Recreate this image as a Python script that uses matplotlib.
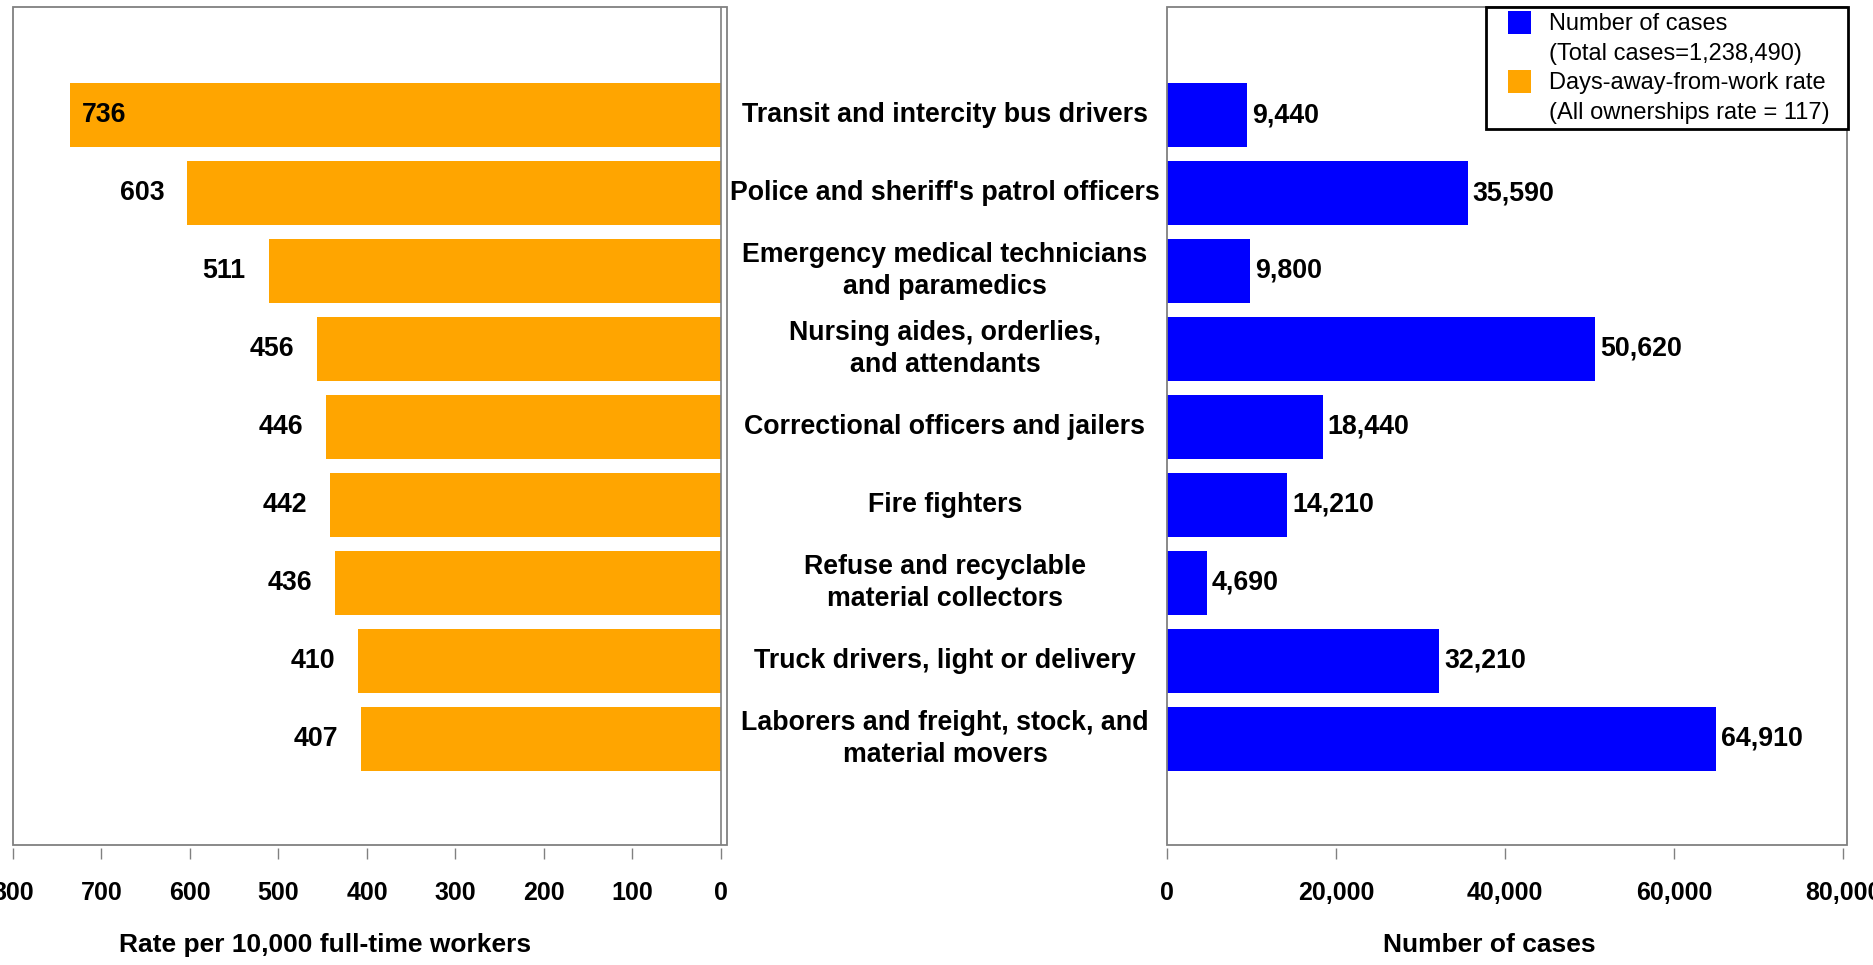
import matplotlib
matplotlib.use("Agg")
import matplotlib.pyplot as plt
from matplotlib.patches import Patch, Rectangle
from matplotlib.legend_handler import HandlerPatch
from matplotlib.transforms import blended_transform_factory

plt.rcParams['font.family'] = ['Liberation Sans', 'DejaVu Sans']

categories = [
    "Transit and intercity bus drivers",
    "Police and sheriff's patrol officers",
    "Emergency medical technicians\nand paramedics",
    "Nursing aides, orderlies,\nand attendants",
    "Correctional officers and jailers",
    "Fire fighters",
    "Refuse and recyclable\nmaterial collectors",
    "Truck drivers, light or delivery",
    "Laborers and freight, stock, and\nmaterial movers",
]
rates = [736, 603, 511, 456, 446, 442, 436, 410, 407]
cases = [9440, 35590, 9800, 50620, 18440, 14210, 4690, 32210, 64910]
rate_ticks = [800, 700, 600, 500, 400, 300, 200, 100, 0]
case_ticks = [0, 20000, 40000, 60000, 80000]
legend_labels = ["Number of cases", "(Total cases=1,238,490)",
                 "Days-away-from-work rate", "(All ownerships rate = 117)"]

ORANGE = "#FFA500"
BLUE = "#0000FF"
GRAY = "#808080"
FS = 19.25

W, H = 1874, 965
fig = plt.figure(figsize=(W / 100, H / 100), dpi=100)

def fr(x0, x1, ytop, ybot):
    return [x0 / W, 1 - ybot / H, (x1 - x0) / W, (ybot - ytop) / H]

axL = fig.add_axes(fr(13, 727, 7, 845))
axR = fig.add_axes(fr(1167, 1847, 7, 845))

y = list(range(len(categories)))
bar_h = 0.82

axL.barh(y, rates, height=bar_h, color=ORANGE)
axR.barh(y, cases, height=bar_h, color=BLUE)

for ax in (axL, axR):
    ax.set_ylim(9.36, -1.385)
    ax.set_yticks([])
    for s in ax.spines.values():
        s.set_visible(False)
    ax.add_patch(Rectangle((0, 0), 1, 1, transform=ax.transAxes, fill=False,
                           edgecolor=GRAY, lw=1.3, clip_on=False, zorder=5))
    ax.spines['bottom'].set_position(('outward', 2))
    ax.tick_params(axis='x', direction='out', length=8, width=1, color=GRAY,
                   pad=16, labelsize=18)

axL.set_xlim(800, -6.8)
axL.set_xticks(rate_ticks)
axL.set_xticklabels([str(t) for t in rate_ticks], fontweight='bold', fontsize=18)
axL.axvline(0, color=GRAY, lw=1.2, zorder=4)

axR.set_xlim(0, 80470)
axR.set_xticks(case_ticks)
axR.set_xticklabels([f"{t:,}" for t in case_ticks], fontweight='bold', fontsize=18)

# value labels
for i, v in enumerate(rates):
    if v > 700:
        axL.annotate(str(v), (v, i), xytext=(12, 0), textcoords='offset pixels',
                     ha='left', va='center', fontsize=FS, fontweight='bold')
    else:
        axL.annotate(str(v), (v, i), xytext=(-23, 0), textcoords='offset pixels',
                     ha='right', va='center', fontsize=FS, fontweight='bold')

for i, v in enumerate(cases):
    axR.annotate(f"{v:,}", (v, i), xytext=(5, 0), textcoords='offset pixels',
                 ha='left', va='center', fontsize=FS, fontweight='bold')

# category labels in the middle
tr = blended_transform_factory(fig.transFigure, axR.transData)
for i, c in enumerate(categories):
    axR.text(945 / W, i, c, transform=tr, ha='center', va='center',
             fontsize=FS, fontweight='bold', linespacing=1.3, clip_on=False)

# axis titles
fig.text(325 / W, 1 - 945 / H, "Rate per 10,000 full-time workers",
         ha='center', va='center', fontsize=19, fontweight='bold')
fig.text(1489 / W, 1 - 945 / H, "Number of cases",
         ha='center', va='center', fontsize=19, fontweight='bold')

# legend
def square_patch(legend, orig_handle, xdescent, ydescent, width, height, fontsize):
    side = 23 * 72 / 100.0
    return Rectangle((-xdescent + width - side, -ydescent + (height - side) / 2),
                     side, side)

handles = [Patch(facecolor=BLUE, edgecolor='none'),
           Patch(facecolor='none', edgecolor='none'),
           Patch(facecolor=ORANGE, edgecolor='none'),
           Patch(facecolor='none', edgecolor='none')]
hm = {h: HandlerPatch(patch_func=square_patch) for h in handles}
lx0 = (1486 - 1167) / 680
lx1 = (1848 - 1167) / 680
leg = axR.legend(handles, legend_labels, loc='upper right',
                 bbox_to_anchor=(lx0, 0.5, lx1 - lx0, 0.5), mode='expand',
                 borderaxespad=0, fontsize=17, frameon=True, fancybox=False,
                 edgecolor='black', framealpha=1, borderpad=0.2,
                 handlelength=1.71, handleheight=1.0, handletextpad=0.76,
                 labelspacing=0.25, handler_map=hm)
leg.get_frame().set_linewidth(2)
leg.set_zorder(10)

fig.savefig("out.png", dpi=100)
